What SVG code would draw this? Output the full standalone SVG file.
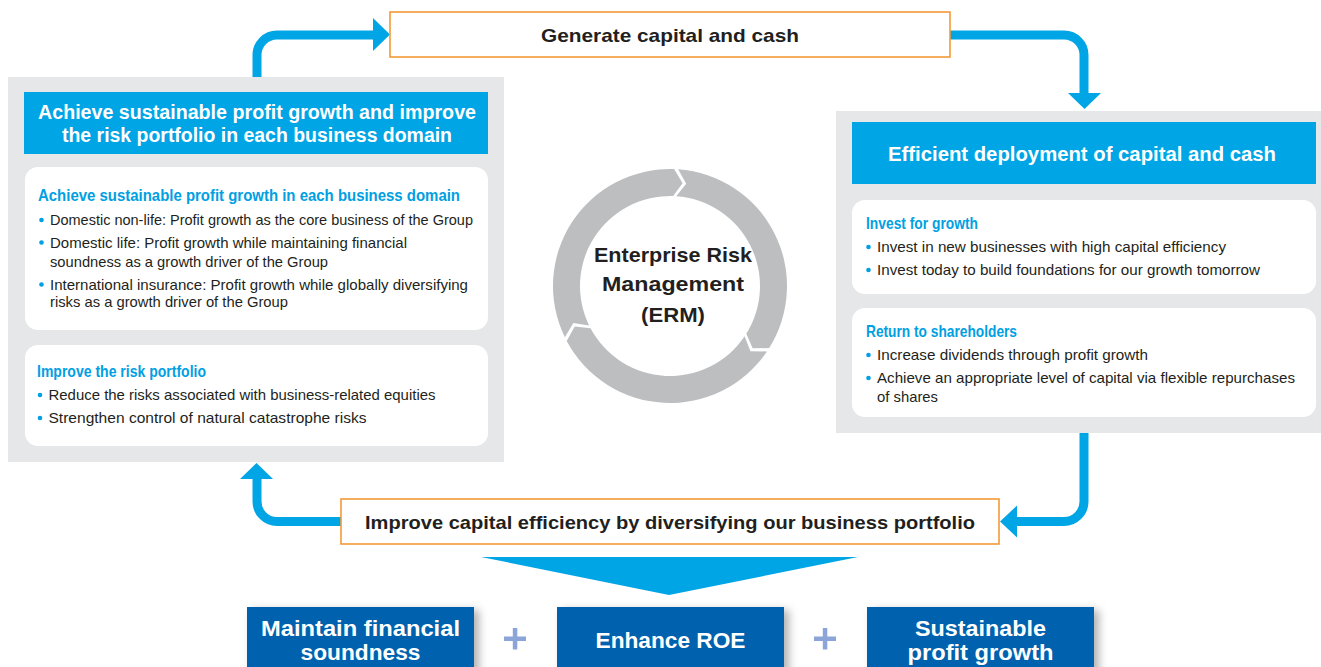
<svg xmlns="http://www.w3.org/2000/svg" width="1321" height="667" viewBox="0 0 1321 667">
<style>
.panel{fill:#e6e7e8}
.hdr{fill:#00a5e5}
.card{fill:#ffffff}
.obox{fill:#ffffff;stroke:#f39a36;stroke-width:1.6}
.dbox{fill:#0062ae}
.ring{fill:#bcbec0}
.conn{fill:none;stroke:#00a5e5;stroke-width:9}
.head{fill:#00a5e5}
.htxt{font-family:"Liberation Sans",Arial,sans-serif;font-weight:bold;fill:#ffffff;text-anchor:middle}
.btxt{font-family:"Liberation Sans",Arial,sans-serif;font-weight:bold;fill:#231f20;text-anchor:middle}
.ttl{font-family:"Liberation Sans Narrow","Liberation Sans",Arial,sans-serif;font-weight:bold;fill:#00a0e2;font-size:16.5px}
.body{font-family:"Liberation Sans Narrow","Liberation Sans",Arial,sans-serif;fill:#231f20;font-size:15px}
.bul{fill:#00a0e2}
.dtxt{font-family:"Liberation Sans Narrow","Liberation Sans",Arial,sans-serif;font-weight:bold;fill:#ffffff;font-size:22px;text-anchor:middle}
.plus{fill:#8ca5d8}
</style>
<defs>
<filter id="sh" x="-10%" y="-20%" width="130%" height="160%">
<feDropShadow dx="5" dy="3" stdDeviation="4" flood-color="#000" flood-opacity="0.3"/>
</filter>
</defs>

<g id="connectors">
<path class="conn" d="M257 92 V55 A20 20 0 0 1 277 35 H376"/>
<polygon class="head" points="373,18 390,34.5 373,51"/>
<path class="conn" d="M950 35 H1064 A20 20 0 0 1 1084 55 V95"/>
<polygon class="head" points="1068,93 1101,93 1084.5,109"/>
<path class="conn" d="M1084 433 V501.5 A20 20 0 0 1 1064 521.5 H1015"/>
<polygon class="head" points="1017,505.5 1017,537.5 1000,521.5"/>
<path class="conn" d="M341 521.5 H277 A20 20 0 0 1 257 501.5 V477"/>
<polygon class="head" points="240,479 273,479 256.5,463"/>
<polygon class="head" points="481,557 858,557 669,595"/>
</g>

<g id="generate">
<rect class="obox" x="390" y="12" width="560" height="45"/>
<text class="btxt" x="670" y="41.5" font-size="19" textLength="258" lengthAdjust="spacingAndGlyphs">Generate capital and cash</text>
</g>

<g id="left-panel">
<rect class="panel" x="8" y="77" width="496" height="385"/>
<rect class="hdr" x="24" y="92" width="464" height="62"/>
<text class="htxt" x="257" y="119" font-size="20" textLength="438" lengthAdjust="spacingAndGlyphs">Achieve sustainable profit growth and improve</text>
<text class="htxt" x="257" y="142" font-size="20" textLength="390" lengthAdjust="spacingAndGlyphs">the risk portfolio in each business domain</text>
</g>

<g id="left-card-growth">
<rect class="card" x="25" y="167" width="463" height="163" rx="13"/>
<text class="ttl" x="38" y="200.5" textLength="422" lengthAdjust="spacingAndGlyphs">Achieve sustainable profit growth in each business domain</text>
<circle class="bul" cx="41.5" cy="220" r="2.3"/>
<text class="body" x="50" y="225" textLength="423" lengthAdjust="spacingAndGlyphs">Domestic non-life: Profit growth as the core business of the Group</text>
<circle class="bul" cx="41.5" cy="242.5" r="2.3"/>
<text class="body" x="50" y="247.5" textLength="357" lengthAdjust="spacingAndGlyphs">Domestic life: Profit growth while maintaining financial</text>
<text class="body" x="50" y="266.5" textLength="278" lengthAdjust="spacingAndGlyphs">soundness as a growth driver of the Group</text>
<circle class="bul" cx="41.5" cy="284.5" r="2.3"/>
<text class="body" x="50" y="289.5" textLength="418" lengthAdjust="spacingAndGlyphs">International insurance: Profit growth while globally diversifying</text>
<text class="body" x="50" y="307" textLength="238" lengthAdjust="spacingAndGlyphs">risks as a growth driver of the Group</text>
</g>

<g id="left-card-risk">
<rect class="card" x="25" y="345" width="463" height="101" rx="13"/>
<text class="ttl" x="37" y="376.5" textLength="169" lengthAdjust="spacingAndGlyphs">Improve the risk portfolio</text>
<circle class="bul" cx="40" cy="395" r="2.3"/>
<text class="body" x="48.5" y="400" textLength="387" lengthAdjust="spacingAndGlyphs">Reduce the risks associated with business-related equities</text>
<circle class="bul" cx="40" cy="418" r="2.3"/>
<text class="body" x="48.5" y="423" textLength="318" lengthAdjust="spacingAndGlyphs">Strengthen control of natural catastrophe risks</text>
</g>

<g id="erm">
<path class="ring" d="M678.16 169.29 A117 117 0 0 1 769.22 348.00 L752.66 348.29 L746.32 333.69 A90 90 0 0 0 676.28 196.22 L686.19 183.77 Z"/>
<path class="ring" d="M767.00 351.43 A117 117 0 0 1 566.69 340.93 L574.73 326.44 L590.53 328.25 A90 90 0 0 0 744.61 336.33 L750.43 351.13 Z"/>
<path class="ring" d="M564.84 337.29 A117 117 0 0 1 674.08 169.07 L682.61 183.27 L673.14 196.05 A90 90 0 0 0 589.11 325.45 L573.37 323.09 Z"/>
<text class="btxt" x="673" y="261.5" font-size="21" textLength="158" lengthAdjust="spacingAndGlyphs">Enterprise Risk</text>
<text class="btxt" x="673" y="290.5" font-size="21" textLength="142" lengthAdjust="spacingAndGlyphs">Management</text>
<text class="btxt" x="673" y="321.5" font-size="21" textLength="64" lengthAdjust="spacingAndGlyphs">(ERM)</text>
</g>

<g id="right-panel">
<rect class="panel" x="836" y="111" width="485" height="322"/>
<rect class="hdr" x="852" y="122" width="464" height="62"/>
<text class="htxt" x="1082" y="161" font-size="20" textLength="388" lengthAdjust="spacingAndGlyphs">Efficient deployment of capital and cash</text>
</g>

<g id="right-card-invest">
<rect class="card" x="852" y="200" width="464" height="94" rx="13"/>
<text class="ttl" x="866" y="228.5" textLength="112" lengthAdjust="spacingAndGlyphs">Invest for growth</text>
<circle class="bul" cx="868.5" cy="247" r="2.3"/>
<text class="body" x="877" y="252" textLength="349" lengthAdjust="spacingAndGlyphs">Invest in new businesses with high capital efficiency</text>
<circle class="bul" cx="868.5" cy="270" r="2.3"/>
<text class="body" x="877" y="275" textLength="383" lengthAdjust="spacingAndGlyphs">Invest today to build foundations for our growth tomorrow</text>
</g>

<g id="right-card-return">
<rect class="card" x="852" y="308" width="464" height="109" rx="13"/>
<text class="ttl" x="866" y="336.5" textLength="151" lengthAdjust="spacingAndGlyphs">Return to shareholders</text>
<circle class="bul" cx="868.5" cy="355" r="2.3"/>
<text class="body" x="877" y="360" textLength="271" lengthAdjust="spacingAndGlyphs">Increase dividends through profit growth</text>
<circle class="bul" cx="868.5" cy="378" r="2.3"/>
<text class="body" x="877" y="383" textLength="418" lengthAdjust="spacingAndGlyphs">Achieve an appropriate level of capital via flexible repurchases</text>
<text class="body" x="877" y="402" textLength="61" lengthAdjust="spacingAndGlyphs">of shares</text>
</g>

<g id="improve">
<rect class="obox" x="341" y="499" width="658" height="45"/>
<text class="btxt" x="670" y="528.5" font-size="18.5" textLength="610" lengthAdjust="spacingAndGlyphs">Improve capital efficiency by diversifying our business portfolio</text>
</g>

<g id="soundness">
<rect class="dbox" x="247" y="607" width="227" height="70" filter="url(#sh)"/>
<text class="dtxt" x="360.5" y="636" textLength="199" lengthAdjust="spacingAndGlyphs">Maintain financial</text>
<text class="dtxt" x="360.5" y="660" textLength="120" lengthAdjust="spacingAndGlyphs">soundness</text>
</g>

<g id="plus1">
<rect class="plus" x="504" y="636.5" width="22" height="4.5"/>
<rect class="plus" x="512.8" y="628" width="4.5" height="21.5"/>
</g>

<g id="roe">
<rect class="dbox" x="557" y="607" width="227" height="70" filter="url(#sh)"/>
<text class="dtxt" x="670.5" y="648" textLength="150" lengthAdjust="spacingAndGlyphs">Enhance ROE</text>
</g>

<g id="plus2">
<rect class="plus" x="814" y="636.5" width="22" height="4.5"/>
<rect class="plus" x="822.8" y="628" width="4.5" height="21.5"/>
</g>

<g id="growth">
<rect class="dbox" x="867" y="607" width="227" height="70" filter="url(#sh)"/>
<text class="dtxt" x="980.5" y="636" textLength="131" lengthAdjust="spacingAndGlyphs">Sustainable</text>
<text class="dtxt" x="980.5" y="660" textLength="146" lengthAdjust="spacingAndGlyphs">profit growth</text>
</g>
</svg>
